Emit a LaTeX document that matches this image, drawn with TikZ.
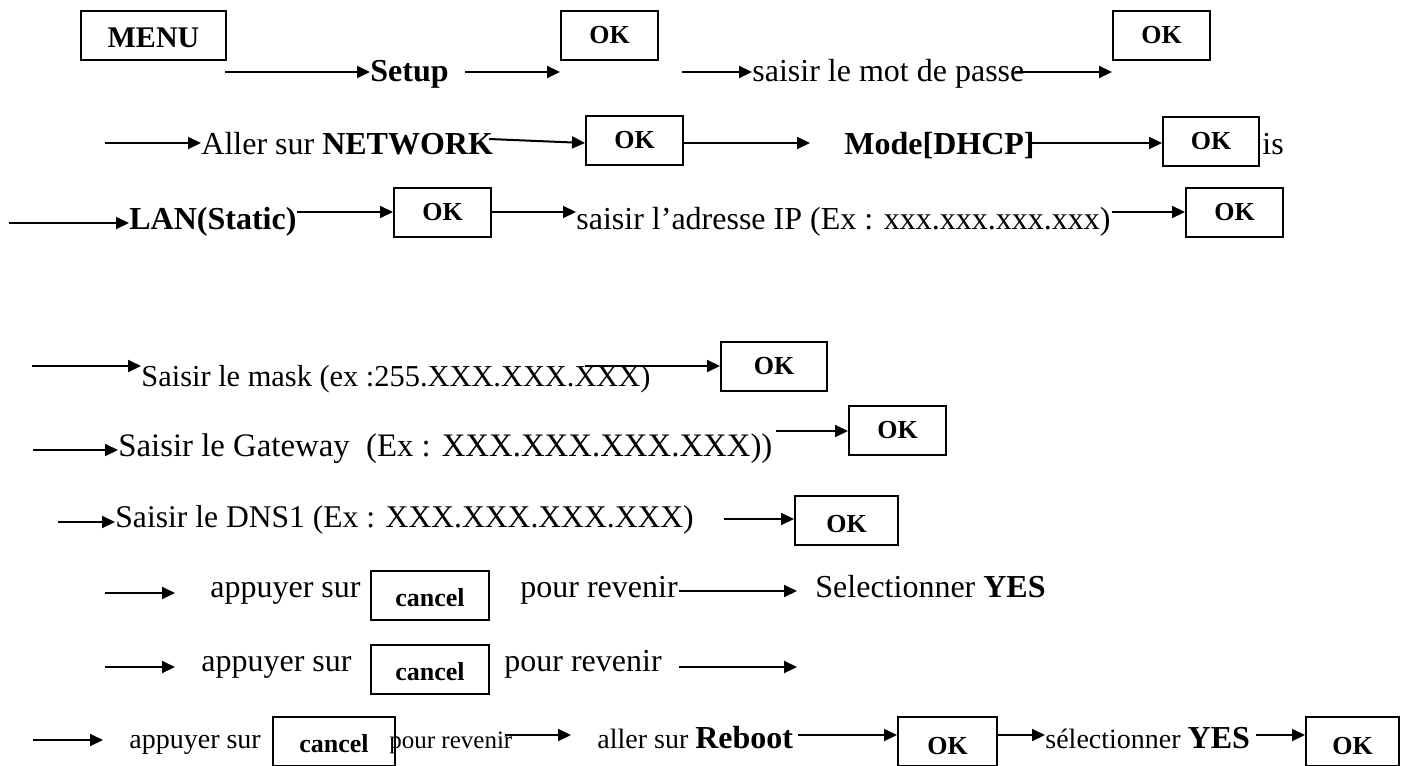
\documentclass[tikz,border=0pt]{standalone}
\usepackage{fontspec}
\setmainfont{Liberation Serif}
\usetikzlibrary{arrows.meta}

\begin{document}
\begin{tikzpicture}[x=0.5pt, y=-0.5pt,
    every node/.style={inner sep=0pt, font=\fontsize{16}{19}\selectfont},
    txt/.style={anchor=base west},
    boldtxt/.style={font=\bfseries\fontsize{16}{19}\selectfont},
    smalltxt/.style={font=\fontsize{14}{17}\selectfont},
    btn/.style={draw, line width=1pt, anchor=north west, minimum width=48.5pt, minimum height=24.5pt, font=\bfseries\fontsize{13}{15}\selectfont},
    arr/.style={line width=1pt, -{Triangle[length=6.5pt, width=6pt]}}]
    \useasboundingbox (0,0) rectangle (1406,765);

    % Row 1: MENU -> Setup -> OK -> mot de passe -> OK
    \node[btn, minimum width=72.5pt, font=\bfseries\fontsize{15}{18}\selectfont, text height=12.5pt] (menu) at (80,10) {MENU};
    \coordinate (s1) at (225,72);
    \node[txt, boldtxt] (setup) at (370,82) {Setup};
    \draw[arr] (s1) -- (setup.west |- s1);
    \node[btn] (ok1) at (560,10) {OK};
    \coordinate (s2) at (465,72);
    \draw[arr] (s2) -- (ok1.west |- s2);
    \coordinate (s3) at (682,72);
    \node[txt] (passe) at (752,82) {saisir le mot de passe};
    \draw[arr] (s3) -- (passe.west |- s3);
    \node[btn] (ok2) at (1112,10) {OK};
    \coordinate (s4) at (1015,72);
    \draw[arr] (s4) -- (ok2.west |- s4);

    % Row 2: NETWORK -> OK -> Mode[DHCP] -> OK
    \coordinate (s5) at (105,143);
    \node[txt] (network) at (201,155) {Aller sur \textbf{NETWORK}};
    \draw[arr] (s5) -- (network.west |- s5);
    \node[btn] (ok3) at (585,115) {OK};
    \coordinate (s6) at (489,139);
    \draw[arr] (s6) -- (ok3.west |- s5);
    \coordinate (e7) at (810,143);
    \draw[arr] (ok3.east |- e7) -- (e7);
    \node[txt, boldtxt] (mode) at (844,155) {Mode[DHCP]};
    \node[btn, minimum width=48pt] (ok4) at (1162,116) {OK};
    \coordinate (s8) at (1031,143);
    \draw[arr] (s8) -- (ok4.west |- s8);
    \node[txt] (is) at (1262,155) {is};

    % Row 3: LAN(Static) -> OK -> adresse IP -> OK
    \coordinate (s9) at (9,223);
    \node[txt, boldtxt] (lan) at (129,229) {LAN(Static)};
    \draw[arr] (s9) -- (lan.west |- s9);
    \node[btn] (ok5) at (393,187) {OK};
    \coordinate (s10) at (297,212);
    \draw[arr] (s10) -- (ok5.west |- s10);
    \node[txt] (adresse) at (576,229) {saisir l’adresse IP (Ex : xxx.xxx.xxx.xxx)};
    \draw[arr] (ok5.east |- s10) -- (adresse.west |- s10);
    \node[btn] (ok6) at (1185,187) {OK};
    \coordinate (s11) at (1112,212);
    \draw[arr] (s11) -- (ok6.west |- s11);

    % Row 4: mask
    \coordinate (s12) at (32,366);
    \node[txt, font=\fontsize{15.2}{18}\selectfont] (mask) at (141,386) {Saisir le mask (ex :255.XXX.XXX.XXX)};
    \draw[arr] (s12) -- (mask.west |- s12);
    \node[btn, minimum width=53pt] (ok7) at (720,341) {OK};
    \coordinate (s13) at (585,366);
    \draw[arr] (s13) -- (ok7.west |- s13);

    % Row 5: Gateway
    \coordinate (s14) at (33,450);
    \node[txt, font=\fontsize{16.4}{19}\selectfont] (gateway) at (118,456) {Saisir le Gateway\ \ (Ex : XXX.XXX.XXX.XXX))};
    \draw[arr] (s14) -- (gateway.west |- s14);
    \node[btn] (ok8) at (848,405) {OK};
    \coordinate (s15) at (776,431);
    \draw[arr] (s15) -- (ok8.west |- s15);

    % Row 6: DNS1
    \coordinate (s16) at (58,522);
    \node[txt, font=\fontsize{15.8}{19}\selectfont] (dns) at (115,527) {Saisir le DNS1 (Ex : XXX.XXX.XXX.XXX)};
    \draw[arr] (s16) -- (dns.west |- s16);
    \node[btn, minimum width=51.5pt, text height=12pt] (ok9) at (794,495) {OK};
    \coordinate (s17) at (724,519);
    \draw[arr] (s17) -- (ok9.west |- s17);

    % Row 7: cancel -> Selectionner YES
    \coordinate (s18) at (105,593);
    \coordinate (e18) at (175,593);
    \draw[arr] (s18) -- (e18);
    \node[txt] (app1) at (210,597) {appuyer sur};
    \node[btn, minimum width=59pt, text height=11.5pt] (cancel1) at (370,570) {cancel};
    \node[txt] (rev1) at (520,597) {pour revenir};
    \coordinate (s19) at (679,591);
    \coordinate (e19) at (797,591);
    \draw[arr] (s19) -- (e19);
    \node[txt] (yes1) at (815,597) {Selectionner \textbf{YES}};

    % Row 8: cancel
    \coordinate (s20) at (105,667);
    \coordinate (e20) at (175,667);
    \draw[arr] (s20) -- (e20);
    \node[txt] (app2) at (201,671) {appuyer sur};
    \node[btn, minimum width=59pt, text height=11.5pt] (cancel2) at (370,644) {cancel};
    \node[txt] (rev2) at (504,671) {pour revenir};
    \coordinate (s21) at (679,667);
    \coordinate (e21) at (797,667);
    \draw[arr] (s21) -- (e21);

    % Row 9: cancel -> Reboot -> OK -> YES -> OK
    \coordinate (s22) at (33,740);
    \coordinate (e22) at (103,740);
    \draw[arr] (s22) -- (e22);
    \node[txt, smalltxt] (app3) at (129,748) {appuyer sur};
    \node[txt, font=\fontsize{12.5}{15}\selectfont] (rev3) at (389,748) {pour revenir};
    \node[btn, minimum width=61pt, text height=11pt] (cancel3) at (272,716) {cancel};
    \coordinate (s23) at (505,735);
    \coordinate (e23) at (571,735);
    \draw[arr] (s23) -- (e23);
    \node[txt, smalltxt] (reboot) at (597,748) {aller sur {\bfseries\fontsize{16}{19}\selectfont Reboot}};
    \node[btn, minimum width=49.5pt, text height=13pt] (ok10) at (897,716) {OK};
    \coordinate (s24) at (798,735);
    \draw[arr] (s24) -- (ok10.west |- s24);
    \node[txt, smalltxt] (yes2) at (1045,748) {sélectionner {\bfseries\fontsize{16}{19}\selectfont YES}};
    \draw[arr] (ok10.east |- s24) -- (yes2.west |- s24);
    \node[btn, minimum width=46.5pt, text height=13pt] (ok11) at (1305,716) {OK};
    \coordinate (s25) at (1256,735);
    \draw[arr] (s25) -- (ok11.west |- s25);
\end{tikzpicture}
\end{document}
